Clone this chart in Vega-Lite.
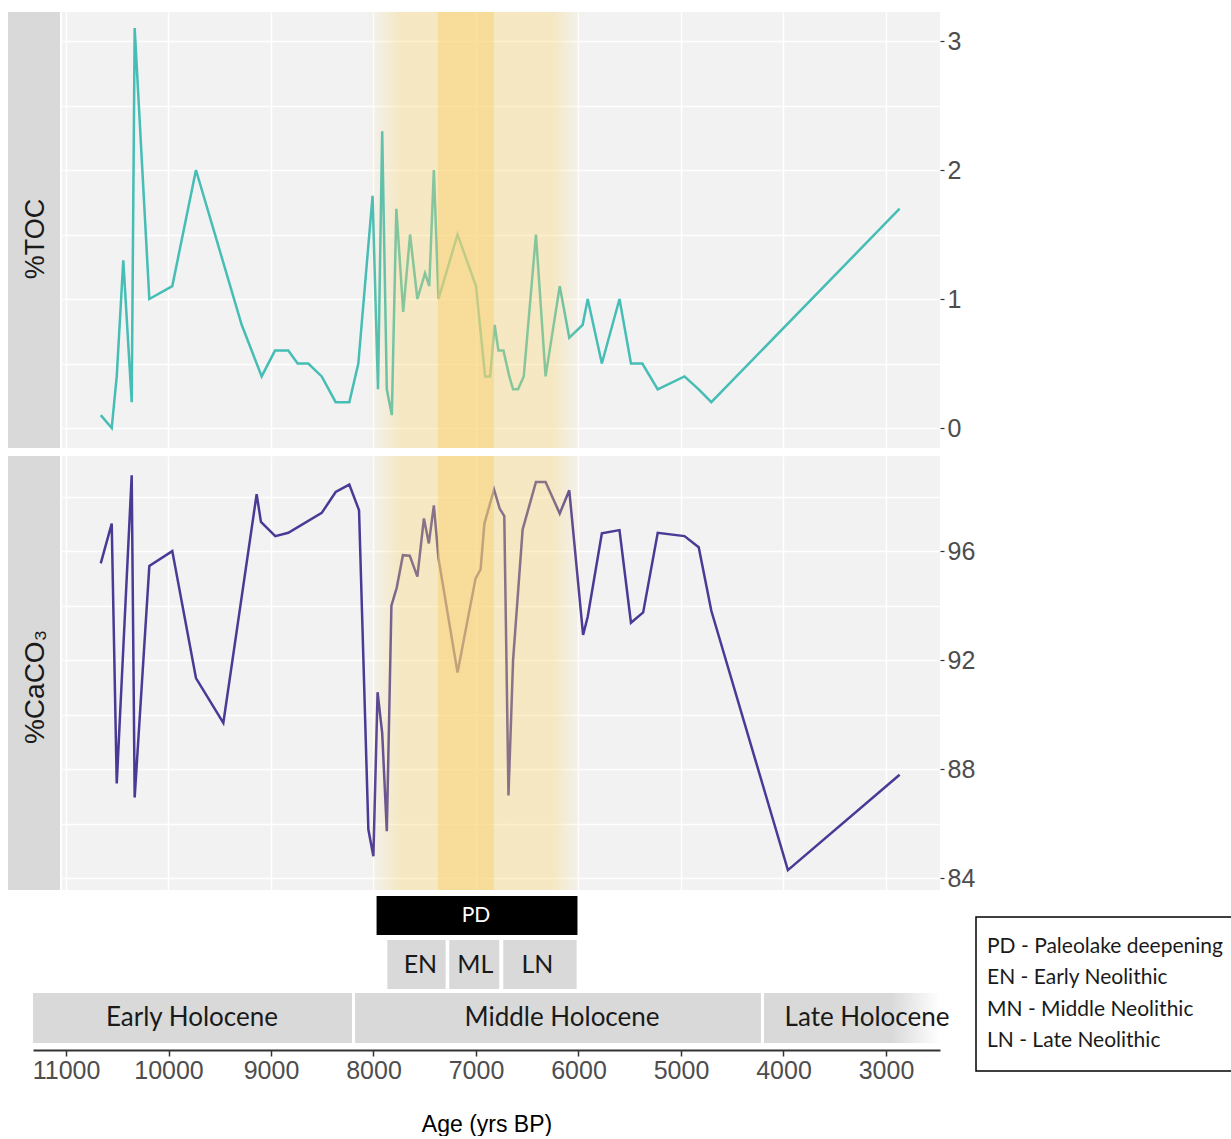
{
  "$schema": "https://vega.github.io/schema/vega-lite/v6.json",
  "background": "white",
  "padding": {"left": 8, "top": 12, "right": 0, "bottom": 0},
  "config": {
    "view": {"stroke": null},
    "font": "Liberation Sans"
  },
  "datasets": {
    "toc": [
      {"age": 10661, "toc": 0.1}, {"age": 10554, "toc": 0.0}, {"age": 10505, "toc": 0.4}, {"age": 10441, "toc": 1.3},
      {"age": 10359, "toc": 0.2}, {"age": 10330, "toc": 3.1}, {"age": 10187, "toc": 1.0}, {"age": 9963, "toc": 1.1},
      {"age": 9732, "toc": 2.0}, {"age": 9286, "toc": 0.8}, {"age": 9091, "toc": 0.4}, {"age": 8961, "toc": 0.6},
      {"age": 8831, "toc": 0.6}, {"age": 8740, "toc": 0.5}, {"age": 8636, "toc": 0.5}, {"age": 8505, "toc": 0.4},
      {"age": 8369, "toc": 0.2}, {"age": 8236, "toc": 0.2}, {"age": 8148, "toc": 0.5}, {"age": 8009, "toc": 1.8},
      {"age": 7956, "toc": 0.3}, {"age": 7915, "toc": 2.3}, {"age": 7870, "toc": 0.3}, {"age": 7821, "toc": 0.1},
      {"age": 7777, "toc": 1.7}, {"age": 7710, "toc": 0.9}, {"age": 7643, "toc": 1.5}, {"age": 7572, "toc": 1.0},
      {"age": 7497, "toc": 1.2}, {"age": 7456, "toc": 1.1}, {"age": 7411, "toc": 2.0}, {"age": 7366, "toc": 1.0},
      {"age": 7180, "toc": 1.5}, {"age": 7000, "toc": 1.1}, {"age": 6911, "toc": 0.4}, {"age": 6862, "toc": 0.4},
      {"age": 6818, "toc": 0.8}, {"age": 6781, "toc": 0.6}, {"age": 6732, "toc": 0.6}, {"age": 6675, "toc": 0.4},
      {"age": 6638, "toc": 0.3}, {"age": 6590, "toc": 0.3}, {"age": 6534, "toc": 0.4}, {"age": 6415, "toc": 1.5},
      {"age": 6321, "toc": 0.4}, {"age": 6183, "toc": 1.1}, {"age": 6090, "toc": 0.7}, {"age": 5959, "toc": 0.8},
      {"age": 5910, "toc": 1.0}, {"age": 5772, "toc": 0.5}, {"age": 5600, "toc": 1.0}, {"age": 5488, "toc": 0.5},
      {"age": 5377, "toc": 0.5}, {"age": 5227, "toc": 0.3}, {"age": 4966, "toc": 0.4}, {"age": 4827, "toc": 0.3},
      {"age": 4704, "toc": 0.2}, {"age": 2867, "toc": 1.7}
    ],
    "caco3": [
      {"age": 10661, "caco3": 95.55}, {"age": 10554, "caco3": 97.01}, {"age": 10505, "caco3": 87.47}, {"age": 10359, "caco3": 98.78},
      {"age": 10330, "caco3": 86.96}, {"age": 10187, "caco3": 95.45}, {"age": 9963, "caco3": 96.0}, {"age": 9732, "caco3": 91.34},
      {"age": 9465, "caco3": 89.69}, {"age": 9140, "caco3": 98.09}, {"age": 9098, "caco3": 97.07}, {"age": 8958, "caco3": 96.55},
      {"age": 8831, "caco3": 96.67}, {"age": 8505, "caco3": 97.4}, {"age": 8369, "caco3": 98.17}, {"age": 8236, "caco3": 98.44},
      {"age": 8141, "caco3": 97.5}, {"age": 8050, "caco3": 85.78}, {"age": 8001, "caco3": 84.8}, {"age": 7960, "caco3": 90.82},
      {"age": 7915, "caco3": 89.32}, {"age": 7870, "caco3": 85.72}, {"age": 7825, "caco3": 94.0}, {"age": 7773, "caco3": 94.66},
      {"age": 7713, "caco3": 95.85}, {"age": 7646, "caco3": 95.83}, {"age": 7572, "caco3": 95.06}, {"age": 7508, "caco3": 97.2},
      {"age": 7460, "caco3": 96.28}, {"age": 7411, "caco3": 97.68}, {"age": 7366, "caco3": 95.73}, {"age": 7180, "caco3": 91.54},
      {"age": 7004, "caco3": 95.0}, {"age": 6955, "caco3": 95.33}, {"age": 6918, "caco3": 97.01}, {"age": 6824, "caco3": 98.26},
      {"age": 6769, "caco3": 97.56}, {"age": 6724, "caco3": 97.28}, {"age": 6683, "caco3": 87.03}, {"age": 6638, "caco3": 92.01},
      {"age": 6545, "caco3": 96.79}, {"age": 6415, "caco3": 98.54}, {"age": 6321, "caco3": 98.54}, {"age": 6183, "caco3": 97.38},
      {"age": 6090, "caco3": 98.23}, {"age": 5955, "caco3": 92.92}, {"age": 5910, "caco3": 93.59}, {"age": 5772, "caco3": 96.65},
      {"age": 5600, "caco3": 96.77}, {"age": 5488, "caco3": 93.37}, {"age": 5369, "caco3": 93.75}, {"age": 5227, "caco3": 96.67},
      {"age": 4966, "caco3": 96.55}, {"age": 4827, "caco3": 96.14}, {"age": 4704, "caco3": 93.81}, {"age": 3957, "caco3": 84.29},
      {"age": 2867, "caco3": 87.79}
    ],
    "outerband": [{"age": 8050, "age2": 5960}],
    "innerband": [{"age": 7371, "age2": 6825}],
    "periods": [
      {"group": "pd", "label": "PD", "start": 7970, "end": 6010, "lo": 11.5, "hi": 15.4, "labelAge": 7000},
      {"group": "neo", "label": "EN", "start": 7865, "end": 7296, "lo": 6.1, "hi": 11.0, "labelAge": 7542},
      {"group": "neo", "label": "ML", "start": 7261, "end": 6773, "lo": 6.1, "hi": 11.0, "labelAge": 7007},
      {"group": "neo", "label": "LN", "start": 6734, "end": 6018, "lo": 6.1, "hi": 11.0, "labelAge": 6400},
      {"group": "holo", "label": "Early Holocene", "start": 11322, "end": 8210, "lo": 0.7, "hi": 5.7, "labelAge": 9771},
      {"group": "holo", "label": "Middle Holocene", "start": 8180, "end": 4220, "lo": 0.7, "hi": 5.7, "labelAge": 6161},
      {"group": "late", "label": "Late Holocene", "start": 4190, "end": 2473, "lo": 0.7, "hi": 5.7, "labelAge": 3185}
    ],
    "legend": [
      {"line": "PD - Paleolake deepening"},
      {"line": "EN - Early Neolithic"},
      {"line": "MN - Middle Neolithic"},
      {"line": "LN - Late Neolithic"}
    ]
  },
  "vconcat": [
    {
      "vconcat": [
        {
          "hconcat": [
            {
              "width": 52, "height": 436,
              "view": {"fill": "#d9d9d9", "stroke": null},
              "data": {"values": [{"label": "%TOC"}]},
              "mark": {"type": "text", "angle": 270, "font": "Liberation Sans", "fontSize": 27, "color": "#1a1a1a", "align": "center", "baseline": "middle", "dx": -9, "dy": 2},
              "encoding": {"text": {"field": "label"}}
            },
            {
              "width": 878, "height": 436,
              "view": {"fill": "#f2f2f2", "stroke": null},
              "layer": [
                {
                  "data": {"name": "toc"},
                  "mark": {"type": "line", "color": "#46bdb5", "strokeWidth": 2.5},
                  "encoding": {
                    "x": {"field": "age", "type": "quantitative", "scale": {"domain": [2473, 11039], "reverse": true, "nice": false, "zero": false},
                      "axis": {"title": null, "values": [3000, 4000, 5000, 6000, 7000, 8000, 9000, 10000, 11000], "grid": true, "gridColor": "white", "gridWidth": 1.5, "labels": false, "ticks": false, "domain": false}},
                    "y": {"field": "toc", "type": "quantitative", "scale": {"domain": [-0.155, 3.225], "nice": false, "zero": false},
                      "axis": {"title": null, "orient": "right", "values": [0, 0.5, 1, 1.5, 2, 2.5, 3], "grid": true, "gridColor": "white", "gridWidth": 1.5, "domain": false,
                        "tickSize": 4, "tickColor": "#333333", "tickWidth": 1.2,
                        "tickOpacity": {"condition": {"test": "datum.value % 1 !== 0", "value": 0}, "value": 1},
                        "labelExpr": "datum.value % 1 === 0 ? format(datum.value, 'd') : ''",
                        "labelFont": "Liberation Sans", "labelFontSize": 25, "labelColor": "#4d4d4d", "labelPadding": 3}}
                  }
                },
                {
                  "data": {"name": "outerband"},
                  "mark": {"type": "rect", "fill": {"gradient": "linear", "x1": 0, "y1": 0, "x2": 1, "y2": 0,
                    "stops": [{"offset": 0, "color": "rgba(249,213,110,0)"}, {"offset": 0.15, "color": "rgba(249,213,110,0.36)"}, {"offset": 0.86, "color": "rgba(249,213,110,0.36)"}, {"offset": 1, "color": "rgba(249,213,110,0)"}]}},
                  "encoding": {"x": {"field": "age", "type": "quantitative"}, "x2": {"field": "age2"}}
                },
                {
                  "data": {"name": "innerband"},
                  "mark": {"type": "rect", "fill": "#f9d270", "opacity": 0.5},
                  "encoding": {"x": {"field": "age", "type": "quantitative"}, "x2": {"field": "age2"}}
                }
              ]
            }
          ],
          "spacing": 2
        },
        {
          "hconcat": [
            {
              "width": 52, "height": 434,
              "view": {"fill": "#d9d9d9", "stroke": null},
              "data": {"values": [{"label": "%CaCO₃"}]},
              "mark": {"type": "text", "angle": 270, "font": "Liberation Sans", "fontSize": 28, "color": "#1a1a1a", "align": "center", "baseline": "middle", "dx": -14, "dy": 2},
              "encoding": {"text": {"field": "label"}}
            },
            {
              "width": 878, "height": 434,
              "view": {"fill": "#f2f2f2", "stroke": null},
              "layer": [
                {
                  "data": {"name": "caco3"},
                  "mark": {"type": "line", "color": "#4a3a95", "strokeWidth": 2.5},
                  "encoding": {
                    "x": {"field": "age", "type": "quantitative", "scale": {"domain": [2473, 11039], "reverse": true, "nice": false, "zero": false},
                      "axis": {"title": null, "values": [3000, 4000, 5000, 6000, 7000, 8000, 9000, 10000, 11000], "grid": true, "gridColor": "white", "gridWidth": 1.5, "labels": false, "ticks": false, "domain": false}},
                    "y": {"field": "caco3", "type": "quantitative", "scale": {"domain": [83.56, 99.49], "nice": false, "zero": false},
                      "axis": {"title": null, "orient": "right", "values": [84, 86, 88, 90, 92, 94, 96, 98], "grid": true, "gridColor": "white", "gridWidth": 1.5, "domain": false,
                        "tickSize": 4, "tickColor": "#333333", "tickWidth": 1.2,
                        "tickOpacity": {"condition": {"test": "datum.value % 4 !== 0", "value": 0}, "value": 1},
                        "labelExpr": "datum.value % 4 === 0 ? format(datum.value, 'd') : ''",
                        "labelFont": "Liberation Sans", "labelFontSize": 25, "labelColor": "#4d4d4d", "labelPadding": 3}}
                  }
                },
                {
                  "data": {"name": "outerband"},
                  "mark": {"type": "rect", "fill": {"gradient": "linear", "x1": 0, "y1": 0, "x2": 1, "y2": 0,
                    "stops": [{"offset": 0, "color": "rgba(249,213,110,0)"}, {"offset": 0.15, "color": "rgba(249,213,110,0.36)"}, {"offset": 0.86, "color": "rgba(249,213,110,0.36)"}, {"offset": 1, "color": "rgba(249,213,110,0)"}]}},
                  "encoding": {"x": {"field": "age", "type": "quantitative"}, "x2": {"field": "age2"}}
                },
                {
                  "data": {"name": "innerband"},
                  "mark": {"type": "rect", "fill": "#f9d270", "opacity": 0.5},
                  "encoding": {"x": {"field": "age", "type": "quantitative"}, "x2": {"field": "age2"}}
                }
              ]
            }
          ],
          "spacing": 2
        }
      ],
      "spacing": 8
    },
    {
      "hconcat": [
        {
          "hconcat": [
            {
              "width": 23.5, "height": 10,
              "data": {"values": [{"k": 1}]},
              "mark": {"type": "point", "opacity": 0}
            },
            {
              "width": 907, "height": 154,
              "data": {"name": "periods"},
              "encoding": {
                "x": {"field": "start", "type": "quantitative", "scale": {"domain": [2473, 11322], "reverse": true, "nice": false, "zero": false},
                  "axis": {"title": "Age (yrs BP)", "values": [3000, 4000, 5000, 6000, 7000, 8000, 9000, 10000, 11000], "format": "d", "grid": false,
                    "domain": true, "domainColor": "#333333", "domainWidth": 2, "tickColor": "#333333", "tickSize": 6, "tickWidth": 1.5,
                    "labelFont": "Liberation Sans", "labelFontSize": 25, "labelColor": "#4d4d4d", "labelPadding": 2, "labelOverlap": false,
                    "titleFont": "Liberation Sans", "titleFontSize": 23, "titleFontWeight": "normal", "titleColor": "#000000", "titlePadding": 30}},
                "y": {"field": "lo", "type": "quantitative", "scale": {"domain": [0, 15.4], "nice": false, "zero": false}, "axis": null}
              },
              "layer": [
                {
                  "transform": [{"filter": "datum.group === 'pd'"}],
                  "mark": {"type": "rect", "fill": "#000000", "clip": true},
                  "encoding": {"x2": {"field": "end"}, "y2": {"field": "hi"}}
                },
                {
                  "transform": [{"filter": "datum.group === 'neo' || datum.group === 'holo'"}],
                  "mark": {"type": "rect", "fill": "#d9d9d9", "clip": true},
                  "encoding": {"x2": {"field": "end"}, "y2": {"field": "hi"}}
                },
                {
                  "transform": [{"filter": "datum.group === 'late'"}],
                  "mark": {"type": "rect", "clip": true, "fill": {"gradient": "linear", "x1": 0, "y1": 0, "x2": 1, "y2": 0,
                    "stops": [{"offset": 0, "color": "#d9d9d9"}, {"offset": 0.72, "color": "#d9d9d9"}, {"offset": 1, "color": "#ffffff"}]}},
                  "encoding": {"x2": {"field": "end"}, "y2": {"field": "hi"}}
                },
                {
                  "transform": [{"filter": "datum.group === 'pd'"}, {"calculate": "(datum.lo + datum.hi) / 2", "as": "mid"}],
                  "mark": {"type": "text", "font": "Lato", "fontSize": 21, "color": "#ffffff", "baseline": "middle", "align": "center"},
                  "encoding": {
                    "x": {"field": "labelAge", "type": "quantitative"},
                    "y": {"field": "mid", "type": "quantitative"},
                    "text": {"field": "label"}
                  }
                },
                {
                  "transform": [{"filter": "datum.group === 'neo'"}, {"calculate": "(datum.lo + datum.hi) / 2", "as": "mid"}],
                  "mark": {"type": "text", "font": "Lato", "fontSize": 25, "color": "#1a1a1a", "baseline": "middle", "align": "center"},
                  "encoding": {
                    "x": {"field": "labelAge", "type": "quantitative"},
                    "y": {"field": "mid", "type": "quantitative"},
                    "text": {"field": "label"}
                  }
                },
                {
                  "transform": [{"filter": "datum.group === 'holo' || datum.group === 'late'"}, {"calculate": "(datum.lo + datum.hi) / 2", "as": "mid"}],
                  "mark": {"type": "text", "font": "Lato", "fontSize": 26, "color": "#1a1a1a", "baseline": "middle", "align": "center"},
                  "encoding": {
                    "x": {"field": "labelAge", "type": "quantitative"},
                    "y": {"field": "mid", "type": "quantitative"},
                    "text": {"field": "label"}
                  }
                }
              ]
            }
          ],
          "spacing": 0
        },
        {
          "vconcat": [
            {
              "width": 1, "height": 20,
              "data": {"values": [{"k": 1}]},
              "mark": {"type": "point", "opacity": 0}
            },
            {
              "width": 265, "height": 154,
              "view": {"fill": "white", "stroke": "#000000", "strokeWidth": 1.5},
              "data": {"name": "legend"},
              "mark": {"type": "text", "font": "Lato", "fontSize": 21, "color": "#1a1a1a", "align": "left", "baseline": "middle", "dx": 11},
              "encoding": {
                "x": {"datum": 0, "type": "quantitative", "scale": {"domain": [0, 1]}, "axis": null},
                "y": {"field": "line", "type": "nominal", "sort": null, "scale": {"type": "point", "padding": 0.95}, "axis": null},
                "text": {"field": "line"}
              }
            }
          ],
          "spacing": 0
        }
      ],
      "spacing": 23
    }
  ],
  "spacing": 4
}
